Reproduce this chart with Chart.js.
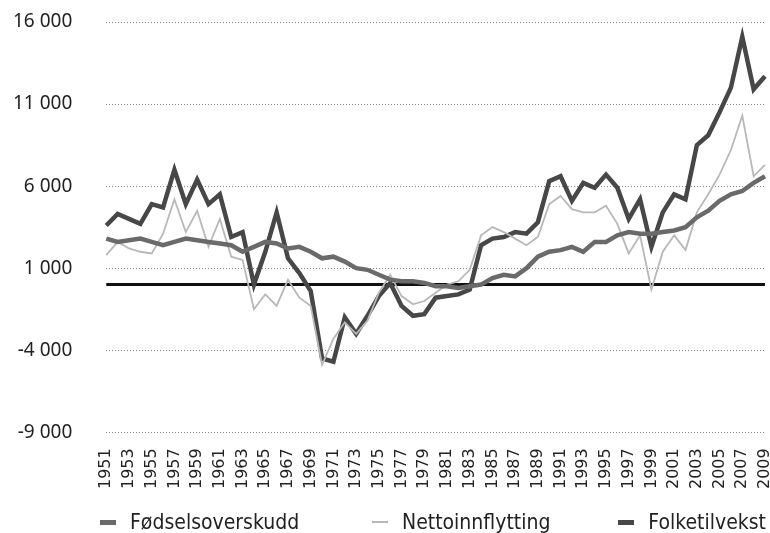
<!DOCTYPE html>
<html>
<head>
<meta charset="utf-8">
<script src="https://cdn.jsdelivr.net/npm/chart.js@4"></script>
<style>
  html, body { margin: 0; padding: 0; background: #fff; }
  #wrap { position: relative; width: 770px; height: 533px; }
  #chart-box { position: absolute; left: 0; top: 0; width: 770px; height: 533px; }
  .legend-item {
    position: absolute; top: 509px; height: 26px;
    display: flex; align-items: center; gap: 14px;
    font-family: 'DejaVu Sans Condensed', 'DejaVu Sans', sans-serif;
    font-size: 21px; color: #222; white-space: nowrap;
  }
  .legend-item .mark { width: 16px; display: inline-block; }
</style>
</head>
<body>
<div id="wrap">
  <div id="chart-box"><canvas id="chart"></canvas></div>
  <div id="legend"></div>
</div>
<script>
// years 1951-2009
const years = [
  1951, 1952, 1953, 1954, 1955, 1956, 1957, 1958, 1959, 1960,
  1961, 1962, 1963, 1964, 1965, 1966, 1967, 1968, 1969, 1970,
  1971, 1972, 1973, 1974, 1975, 1976, 1977, 1978, 1979, 1980,
  1981, 1982, 1983, 1984, 1985, 1986, 1987, 1988, 1989, 1990,
  1991, 1992, 1993, 1994, 1995, 1996, 1997, 1998, 1999, 2000,
  2001, 2002, 2003, 2004, 2005, 2006, 2007, 2008, 2009
];

const fodselsoverskudd = [
  2800, 2600, 2700, 2800, 2600, 2400, 2600, 2800, 2700, 2600,
  2500, 2400, 2000, 2300, 2600, 2500, 2200, 2300, 2000, 1600,
  1700, 1400, 1000, 900, 600, 300, 200, 200, 100, -100,
  -100, -200, -100, 0, 400, 600, 500, 1000, 1700, 2000,
  2100, 2300, 2000, 2600, 2600, 3000, 3200, 3100, 3100, 3200,
  3300, 3500, 4100, 4500, 5100, 5500, 5700, 6200, 6600
];

const nettoinnflytting = [
  1800, 2600, 2200, 2000, 1900, 3100, 5200, 3200, 4500, 2300,
  4000, 1700, 1500, -1500, -600, -1300, 300, -800, -1300, -4900,
  -3300, -2300, -3000, -2200, -500, 600, -700, -1200, -1000, -500,
  0, 200, 900, 3000, 3500, 3200, 2800, 2400, 2900, 4900,
  5400, 4600, 4400, 4400, 4800, 3700, 1900, 3000, -300, 2000,
  3000, 2100, 4400, 5500, 6700, 8200, 10300, 6600, 7300
];

const folketilvekst = [
  3600, 4300, 4000, 3700, 4900, 4700, 7000, 4900, 6400, 4900,
  5500, 2900, 3200, 0, 2000, 4400, 1600, 700, -400, -4500,
  -4700, -2000, -3000, -1900, -700, 100, -1300, -1900, -1800, -800,
  -700, -600, -300, 2400, 2800, 2900, 3200, 3100, 3800, 6300,
  6600, 5100, 6200, 5900, 6700, 5900, 4000, 5200, 2300, 4400,
  5500, 5200, 8500, 9100, 10500, 12000, 15100, 11900, 12700
];

const yMin = -9000;
const yMax = 16000;
const yStep = 5000;

function formatThousands(v) {
  const s = Math.abs(v).toString().replace(/\B(?=(\d{3})+(?!\d))/g, '\u00a0');
  return (v < 0 ? '-' : '') + s;
}

// solid black line at zero
const zeroLine = {
  id: 'zeroLine',
  beforeDatasetsDraw(chart) {
    const { ctx, chartArea, scales } = chart;
    const y = scales.y.getPixelForValue(0);
    ctx.save();
    ctx.strokeStyle = '#111';
    ctx.lineWidth = 3;
    ctx.beginPath();
    ctx.moveTo(chartArea.left, y);
    ctx.lineTo(chartArea.right, y);
    ctx.stroke();
    ctx.restore();
  }
};

const Y_TICK_PAD = 34;

const chart = new Chart(document.getElementById('chart'), {
  type: 'line',
  data: {
    labels: years.map(String),
    datasets: [
      {
        label: 'Fødselsoverskudd',
        data: fodselsoverskudd,
        borderColor: '#6a6a6a',
        borderWidth: 4.5,
        pointRadius: 0,
        tension: 0
      },
      {
        label: 'Nettoinnflytting',
        data: nettoinnflytting,
        borderColor: '#b8b8b8',
        borderWidth: 1.8,
        pointRadius: 0,
        tension: 0
      },
      {
        label: 'Folketilvekst',
        data: folketilvekst,
        borderColor: '#474747',
        borderWidth: 4.5,
        pointRadius: 0,
        tension: 0
      }
    ]
  },
  options: {
    responsive: true,
    maintainAspectRatio: false,
    animation: false,
    layout: { padding: { top: 22, left: 13, right: 0, bottom: 36 } },
    plugins: {
      legend: { display: false },
      tooltip: { enabled: false }
    },
    scales: {
      x: {
        grid: { display: false },
        border: { display: false },
        afterFit: function (scale) {
          scale.paddingLeft = 0;
          scale.paddingRight = 5;
        },
        ticks: {
          autoSkip: false,
          minRotation: 90,
          maxRotation: 90,
          padding: 8,
          color: '#222',
          font: { family: 'DejaVu Sans', size: 16 },
          callback: function (value, index) {
            return index % 2 === 0 ? this.getLabelForValue(value) : '';
          }
        }
      },
      y: {
        min: yMin,
        max: yMax,
        border: { display: false, dash: [1, 2] },
        grid: {
          color: '#888',
          lineWidth: 1,
          drawTicks: false
        },
        afterFit: function (scale) {
          // chart.js counts tick padding twice in the width and adds it above/below
          scale.width -= Y_TICK_PAD;
          scale.paddingTop = 0;
          scale.paddingBottom = 0;
        },
        ticks: {
          stepSize: yStep,
          padding: Y_TICK_PAD,
          color: '#222',
          font: { family: 'Noto Sans', size: 19 },
          callback: function (value) {
            return formatThousands(value);
          }
        }
      }
    }
  },
  plugins: [zeroLine]
});

// legend below the chart, built from the datasets
const legendPos = [{ left: 100 }, { left: 372 }, { right: 4 }];
const legendEl = document.getElementById('legend');
chart.data.datasets.forEach((ds, i) => {
  const item = document.createElement('div');
  item.className = 'legend-item';
  Object.entries(legendPos[i]).forEach(([k, v]) => item.style[k] = v + 'px');
  const mark = document.createElement('span');
  mark.className = 'mark';
  mark.style.height = Math.max(2, Math.round(ds.borderWidth)) + 'px';
  mark.style.background = ds.borderColor;
  const text = document.createElement('span');
  text.textContent = ds.label;
  item.appendChild(mark);
  item.appendChild(text);
  legendEl.appendChild(item);
});
</script>
</body>
</html>
